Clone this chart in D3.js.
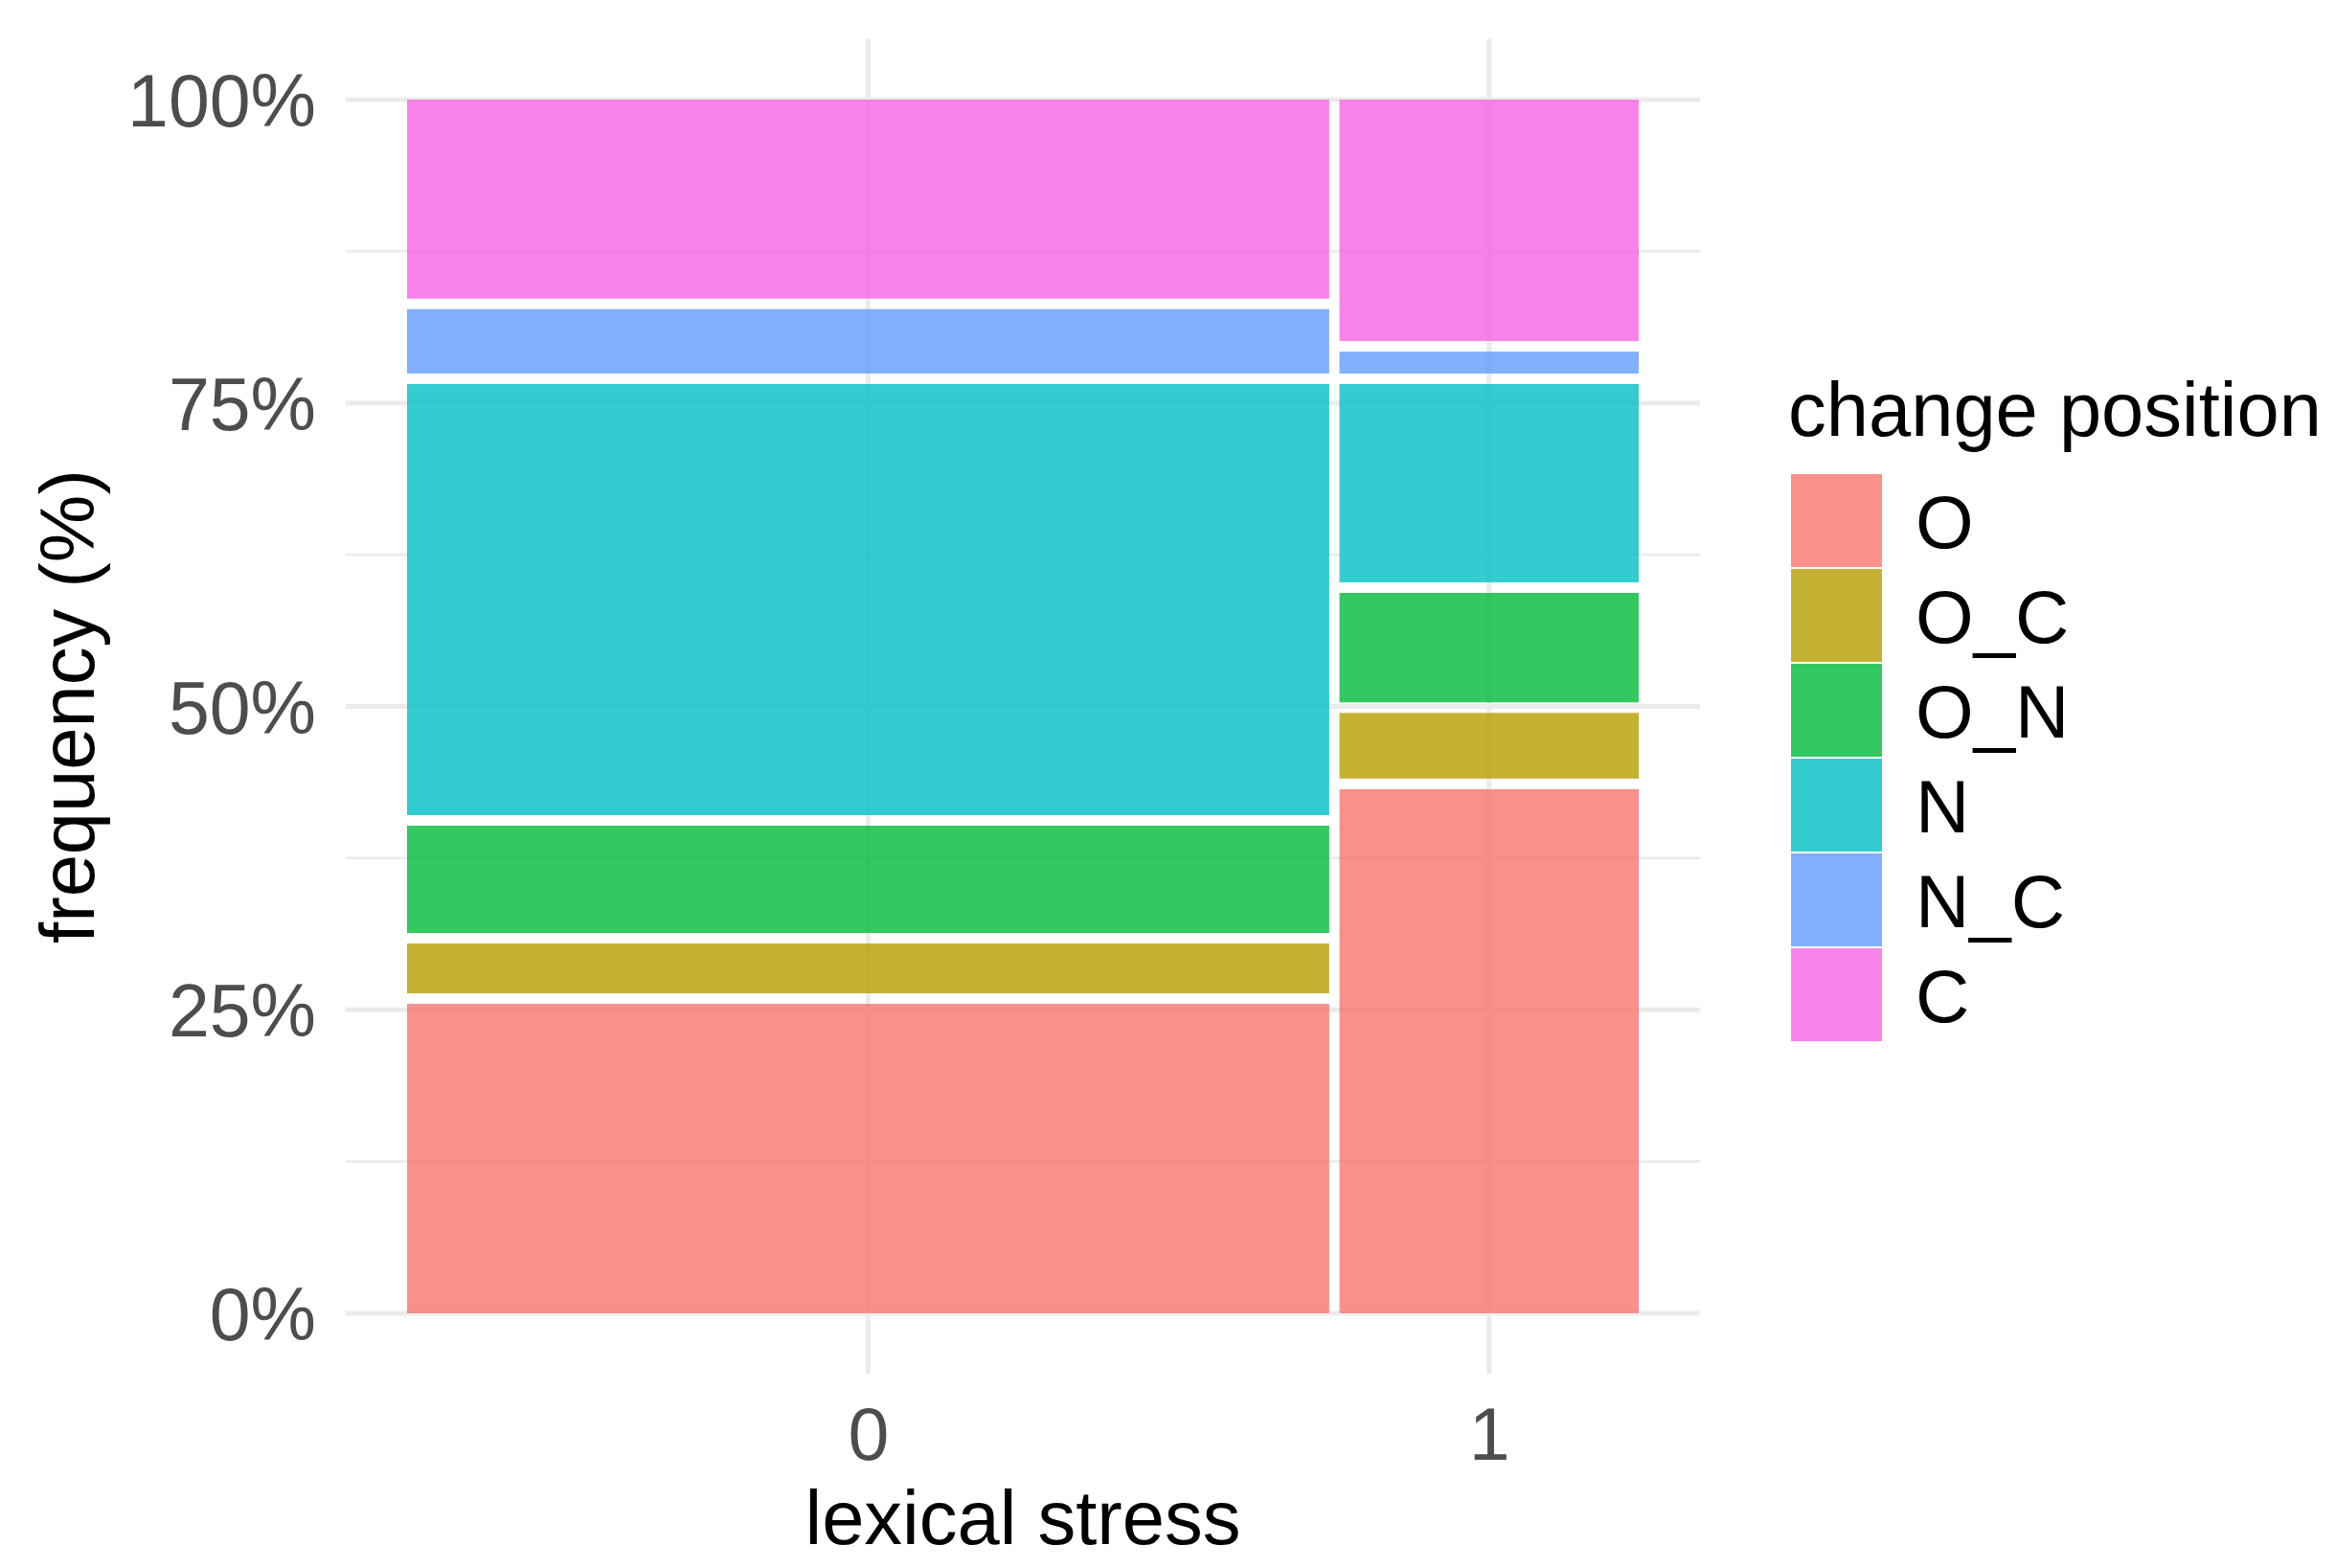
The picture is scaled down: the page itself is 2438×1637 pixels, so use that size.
<!DOCTYPE html>
<html><head><meta charset="utf-8">
<script src="https://cdn.jsdelivr.net/npm/d3@7"></script>
<style>body{margin:0;background:#fff}</style>
</head><body>
<svg id="chart" width="2438" height="1637"></svg>
<script>
// ---- data ----
const stressLevels = ["0", "1"];
const stressShare = [75.5, 24.5];               // % of observations per lexical stress level
const positions = ["O", "O_C", "O_N", "N", "N_C", "C"];
const shareStress0 = [26.65, 4.29, 9.24, 37.14, 5.54, 17.14];   // % within stress 0
const shareStress1 = [45.15, 5.66, 9.43, 17.08, 1.89, 20.80];   // % within stress 1
const yTickValues = [0, 0.25, 0.5, 0.75, 1];
const yTickLabels = ["0%", "25%", "50%", "75%", "100%"];
const yMinorTicks = [0.125, 0.375, 0.625, 0.875];
const fillColors = ["#F8766D", "#B79F00", "#00BA38", "#00BFC4", "#619CFF", "#F564E3"];

// ---- layout ----
const xGap = 0.0083, yGap = 0.0087;
const font = "'Liberation Sans', Arial, sans-serif";
const fsTick = 77, fsTitle = 79.5, fsLegend = 78;

const svg = d3.select("#chart");
const x = d3.scaleLinear().domain([0, 1]).range([425, 1711]);
const y = d3.scaleLinear().domain([0, 1]).range([1371, 104]);
const px0 = x(-0.05), px1 = x(1.05), py0 = y(-0.05), py1 = y(1.05);
const color = d3.scaleOrdinal().domain(positions).range(fillColors);

// mosaic geometry
const shares = [shareStress0, shareStress1];
const xTot = d3.sum(stressShare);
const xUsable = 1 - xGap * (stressLevels.length - 1);
let xc = 0;
const cells = [];
const mids = [];
stressLevels.forEach((s, i) => {
  const w = stressShare[i] / xTot * xUsable;
  mids.push(xc + w / 2);
  const tot = d3.sum(shares[i]);
  const yUsable = 1 - yGap * (positions.length - 1);
  let yc = 0;
  positions.forEach((p, j) => {
    const h = shares[i][j] / tot * yUsable;
    cells.push({stress: s, pos: p, x0: xc, x1: xc + w, y0: yc, y1: yc + h});
    yc += h + yGap;
  });
  xc += w + xGap;
});

// grid
const grid = svg.append("g");
grid.selectAll(".minor").data(yMinorTicks).join("line")
  .attr("x1", px0).attr("x2", px1).attr("y1", d => y(d)).attr("y2", d => y(d))
  .attr("stroke", "#EBEBEB").attr("stroke-width", 2.6);
grid.selectAll(".major").data(yTickValues).join("line")
  .attr("x1", px0).attr("x2", px1).attr("y1", d => y(d)).attr("y2", d => y(d))
  .attr("stroke", "#EBEBEB").attr("stroke-width", 5);
grid.selectAll(".vmajor").data(mids).join("line")
  .attr("y1", py0).attr("y2", py1).attr("x1", d => x(d)).attr("x2", d => x(d))
  .attr("stroke", "#EBEBEB").attr("stroke-width", 5);

// rects
svg.append("g").selectAll("rect").data(cells).join("rect")
  .attr("x", d => x(d.x0)).attr("width", d => x(d.x1) - x(d.x0))
  .attr("y", d => y(d.y1)).attr("height", d => y(d.y0) - y(d.y1))
  .attr("fill", d => color(d.pos)).attr("fill-opacity", 0.8);

// axes
const yAxis = svg.append("g").attr("transform", "translate(330,0)")
  .call(d3.axisLeft(y).tickValues(yTickValues).tickFormat((d, i) => yTickLabels[i]).tickSize(0).tickPadding(0));
yAxis.select(".domain").remove();
yAxis.selectAll("text").attr("font-family", font).attr("font-size", fsTick).attr("fill", "#4D4D4D").attr("dy", "0.36em");

const xAxis = svg.append("g").attr("transform", "translate(0,1524)")
  .call(d3.axisBottom(x).tickValues(mids).tickFormat((d, i) => stressLevels[i]).tickSize(0).tickPadding(0));
xAxis.select(".domain").remove();
xAxis.selectAll("text").attr("font-family", font).attr("font-size", fsTick).attr("fill", "#4D4D4D").attr("dy", 0);

// axis titles
svg.append("text").attr("x", (px0 + px1) / 2).attr("y", 1612).attr("text-anchor", "middle")
  .attr("font-family", font).attr("font-size", fsTitle).attr("fill", "#000").text("lexical stress");
svg.append("text").attr("transform", `translate(98,${(py0 + py1) / 2}) rotate(-90)`).attr("text-anchor", "middle")
  .attr("font-family", font).attr("font-size", fsTitle).attr("fill", "#000").text("frequency (%)");

// legend
const lg = svg.append("g");
lg.append("text").attr("x", 1867).attr("y", 455).attr("font-family", font).attr("font-size", fsTitle)
  .attr("fill", "#000").text("change position");
const keyH = 99, keyW = 97, keyTop = 494;
const items = lg.selectAll(".item").data(positions).join("g")
  .attr("transform", (d, i) => `translate(1869,${keyTop + i * keyH})`);
items.append("rect").attr("width", keyW).attr("height", keyH)
  .attr("fill", d => color(d)).attr("fill-opacity", 0.8)
  .attr("stroke", "#fff").attr("stroke-width", 2);
items.append("text").attr("x", 2000 - 1869).attr("y", keyH / 2).attr("dy", "0.36em")
  .attr("font-family", font).attr("font-size", fsLegend).attr("fill", "#000").text(d => d);
</script>
</body></html>
